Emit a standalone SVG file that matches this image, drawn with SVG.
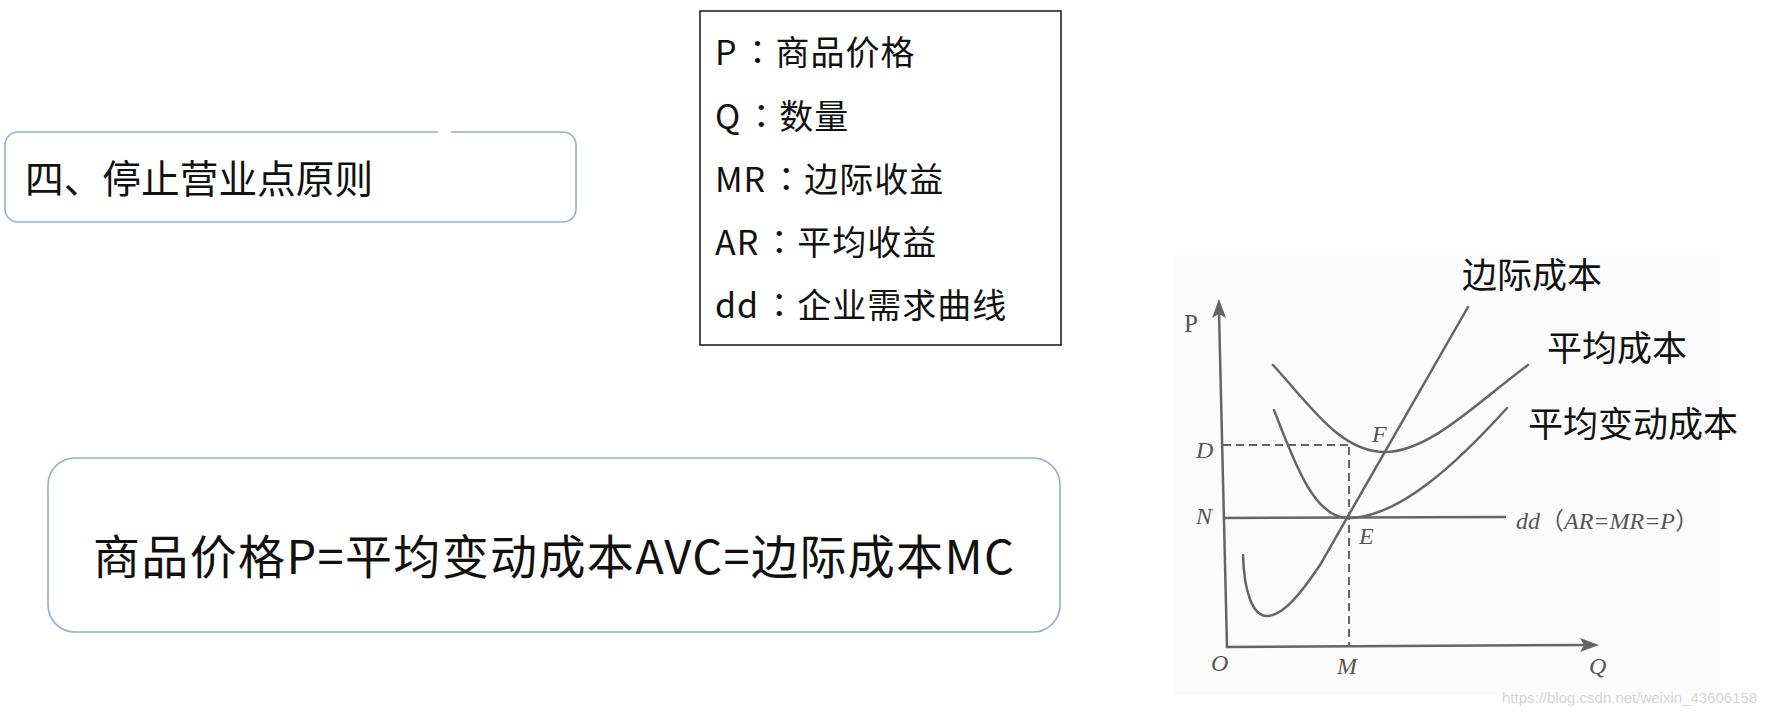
<svg xmlns="http://www.w3.org/2000/svg" width="1782" height="716" viewBox="0 0 1782 716">
<defs>
<style>
.box{fill:#ffffff;stroke:#8fb0d4;stroke-width:1.6}
.cjk{font-family:"Noto Sans CJK SC","Microsoft YaHei",sans-serif;fill:#111}
.leg{font-size:34px;letter-spacing:1px}
.col{font-family:"Noto Sans CJK TC",sans-serif}
.curve{fill:none;stroke:#656565;stroke-width:2.5;stroke-linecap:round}
.dash{fill:none;stroke:#656565;stroke-width:2;stroke-dasharray:8 5}
.lbl{font-family:"Liberation Serif","Noto Sans CJK SC",serif;font-style:italic;font-size:24px;fill:#555}
.glbl{font-family:"Noto Sans CJK SC",sans-serif;font-size:35px;fill:#111}
</style>
</defs>
<rect width="1782" height="716" fill="#ffffff"/>

<g id="title">
<path class="box" d="M451,132 H563 A13,13 0 0 1 576,145 V209 A13,13 0 0 1 563,222 H18 A13,13 0 0 1 5,209 V145 A13,13 0 0 1 18,132 H438"/>
<text class="cjk" x="25" y="193" font-size="38.7">四、停止营业点原则</text>
</g>

<g id="legend">
<rect x="700" y="11" width="361" height="334" fill="#ffffff" stroke="#222" stroke-width="1.6"/>
<text class="cjk leg" x="715" y="65">P<tspan class="col" dx="3">：</tspan>商品价格</text>
<text class="cjk leg" x="715" y="129">Q<tspan class="col" dx="3">：</tspan>数量</text>
<text class="cjk leg" x="715" y="192">MR<tspan class="col" dx="3">：</tspan>边际收益</text>
<text class="cjk leg" x="715" y="255">AR<tspan class="col" dx="3">：</tspan>平均收益</text>
<text class="cjk leg" x="715" y="318">dd<tspan class="col" dx="3">：</tspan>企业需求曲线</text>
</g>

<g id="formula">
<rect class="box" x="48" y="458" width="1012" height="174" rx="27" ry="27"/>
<text class="cjk" x="93" y="574" font-size="47" textLength="921" lengthAdjust="spacing">商品价格P=平均变动成本AVC=边际成本MC</text>
</g>

<g id="graph">
<rect x="1175" y="255" width="545" height="440" fill="#fbfbfb"/>
<g id="connectors">
<line class="curve" x1="1219" y1="312" x2="1227" y2="647"/>
<polygon points="1219,299 1226,318 1219,314 1212,318" fill="#656565"/>
<line class="curve" x1="1227" y1="647" x2="1586" y2="645"/>
<polygon points="1599,645 1580,652 1584,645 1580,638" fill="#656565"/>
<line class="curve" x1="1224" y1="518" x2="1505" y2="517"/>
<path class="dash" d="M1223,445 H1348"/>
<path class="dash" d="M1349,447 V646" stroke-dasharray="7 5"/>
<path class="curve" d="M1273,365 C1310,405 1340,452 1385,452 C1430,452 1480,400 1528,365"/>
<path class="curve" d="M1274,410 C1295,465 1315,518 1348,518 C1400,518 1460,460 1507,408"/>
<path class="curve" d="M1243,555 C1244,590 1252,617 1268,616 C1283,615 1300,595 1320,565 L1468,307"/>
</g>
<text x="1184" y="332" font-family="Liberation Serif,serif" font-size="25" fill="#555">P</text>
<text class="lbl" x="1196" y="458">D</text>
<text class="lbl" x="1372" y="442">F</text>
<text class="lbl" x="1196" y="524">N</text>
<text class="lbl" x="1359" y="544">E</text>
<text class="lbl" x="1211" y="671">O</text>
<text class="lbl" x="1337" y="674">M</text>
<text class="lbl" x="1589" y="674">Q</text>
<text class="lbl" x="1516" y="529" font-size="27">dd<tspan font-family="Noto Sans CJK SC,sans-serif" font-style="normal">（</tspan>AR=MR=P<tspan font-family="Noto Sans CJK SC,sans-serif" font-style="normal">）</tspan></text>
<text class="glbl" x="1462" y="288">边际成本</text>
<text class="glbl" x="1547" y="361">平均成本</text>
<text class="glbl" x="1528" y="437">平均变动成本</text>
</g>

<text x="1502" y="703" font-family="Liberation Sans,Arial,sans-serif" font-size="15" fill="#d4d4d4">https://blog.csdn.net/weixin_43606158</text>
</svg>
